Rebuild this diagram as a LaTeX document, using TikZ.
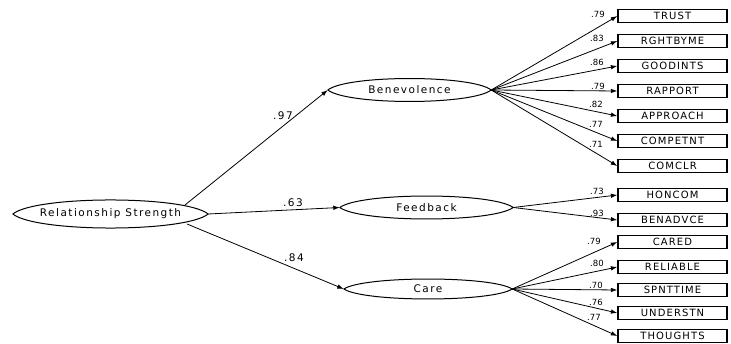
\documentclass[tikz,border=0pt]{standalone}
\usepackage{fontspec}
\setmainfont{DejaVu Sans}[LetterSpace=14]
\newfontfamily\boxfont{DejaVu Sans}[LetterSpace=11]
\newfontfamily\numfont{DejaVu Sans}
\usetikzlibrary{arrows.meta,calc}
\tikzset{
  lv/.style={draw=none, shape=rectangle, inner sep=0pt, font=\fontsize{10.5}{12}\selectfont},
  obs/.style={draw=black, line width=1.2pt, minimum width=109pt, minimum height=13pt, inner sep=0pt, font=\boxfont\fontsize{10}{11}\selectfont},
  conn/.style={line width=0.8pt, -{Latex[length=6.5pt,width=4.5pt]}},
  lensline/.style={line width=1pt, line join=round},
  coef/.style={font=\numfont\fontsize{8.5}{9}\selectfont, inner sep=0pt},
  bigcoef/.style={font=\fontsize{10.5}{12}\selectfont, inner sep=0pt},
}
\newcommand{\lensof}[2]{%
  \draw[lensline] (#1.west) .. controls ($(#1.west)!.12!(#1.east)+(0,-#2)$) and ($(#1.east)!.12!(#1.west)+(0,-#2)$) .. (#1.east)
    .. controls ($(#1.east)!.12!(#1.west)+(0,#2)$) and ($(#1.west)!.12!(#1.east)+(0,#2)$) .. (#1.west) -- cycle;}
\begin{document}
\begin{tikzpicture}[x=1pt,y=-1pt]
\useasboundingbox (0,0) rectangle (731,344);
% latent variables
\node[lv, minimum width=195pt, minimum height=28pt] (rs) at (110.5,214) {Relationship Strength};
\node[lv, minimum width=163pt, minimum height=23pt] (ben) at (409.5,90) {Benevolence};
\node[lv, minimum width=173pt, minimum height=23pt] (fb) at (426.5,207.5) {Feedback};
\node[lv, minimum width=168pt, minimum height=20pt] (care) at (428,289) {Care};
\lensof{rs}{18.7}
\lensof{ben}{15.3}
\lensof{fb}{15.3}
\lensof{care}{13.3}
% observed variables
\node[obs] (trust)  at (672.5,16)  {TRUST};
\node[obs] (rght)   at (672.5,41)  {RGHTBYME};
\node[obs] (good)   at (672.5,66)  {GOODINTS};
\node[obs] (rapp)   at (672.5,91)  {RAPPORT};
\node[obs] (appr)   at (672.5,116) {APPROACH};
\node[obs] (comp)   at (672.5,141) {COMPETNT};
\node[obs] (comclr) at (672.5,166) {COMCLR};
\node[obs] (hon)    at (672.5,195) {HONCOM};
\node[obs] (bena)   at (672.5,220) {BENADVCE};
\node[obs] (cared)  at (672.5,242) {CARED};
\node[obs] (reli)   at (672.5,267) {RELIABLE};
\node[obs] (spnt)   at (672.5,290) {SPNTTIME};
\node[obs] (under)  at (672.5,313) {UNDERSTN};
\node[obs] (thou)   at (672.5,336) {THOUGHTS};
% structural paths
\coordinate (rsU) at (185,205);
\coordinate (rsL) at (187,224);
\draw[conn] (rsU) -- (ben.west);
\draw[conn] (rs.east) -- (fb.west);
\draw[conn] (rsL) -- (care.west);
\node[bigcoef] (c97) at (283,116) {.97};
\node[bigcoef] (c63) at (293,203) {.63};
\node[bigcoef] (c84) at (294,258) {.84};
% measurement paths
\foreach \t in {trust,rght,good,rapp,appr,comp,comclr}{\draw[conn] (ben.east) -- (\t.west);}
\foreach \t in {hon,bena}{\draw[conn] (fb.east) -- (\t.west);}
\foreach \t in {cared,reli,spnt,under,thou}{\draw[conn] (care.east) -- (\t.west);}
% loadings
\node[coef] (l1)  at (598,14)  {.79};
\node[coef] (l2)  at (597,38)  {.83};
\node[coef] (l3)  at (597,62)  {.86};
\node[coef] (l4)  at (598,86)  {.79};
\node[coef] (l5)  at (596,104) {.82};
\node[coef] (l6)  at (596,124) {.77};
\node[coef] (l7)  at (596,144) {.71};
\node[coef] (l8)  at (597,191) {.73};
\node[coef] (l9)  at (597,213) {.93};
\node[coef] (l10) at (594,241) {.79};
\node[coef] (l11) at (597,263) {.80};
\node[coef] (l12) at (596,285) {.70};
\node[coef] (l13) at (596,302) {.76};
\node[coef] (l14) at (594,317) {.77};
\end{tikzpicture}
\end{document}
